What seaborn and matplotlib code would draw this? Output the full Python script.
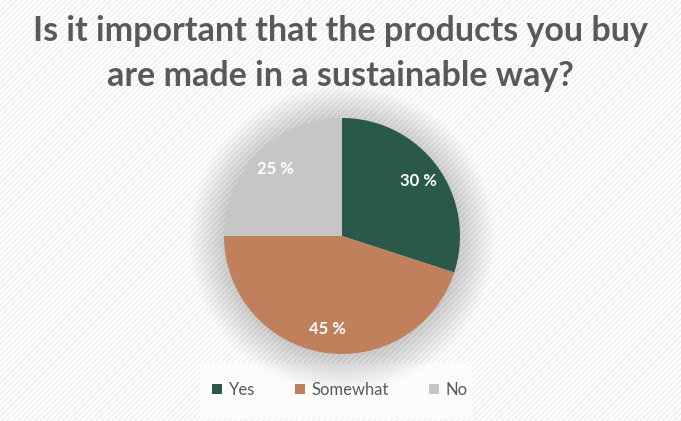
import matplotlib
matplotlib.use("Agg")
import matplotlib.pyplot as plt
import seaborn as sns
import numpy as np
from matplotlib.patches import Rectangle, Circle, Patch

# Data
categories = ["Yes", "Somewhat", "No"]
shares = [30, 45, 25]
colors = ["#2a5849", "#c0805c", "#c6c6c6"]
title_lines = ["Is it important that the products you buy", "are made in a sustainable way?"]

sns.set_theme(style="white")
plt.rcParams["font.family"] = ["Lato", "DejaVu Sans"]

fig = plt.figure(figsize=(6.81, 4.21), dpi=100)

# hatched background
plt.rcParams["hatch.linewidth"] = 1.0
fig.patches.append(Rectangle((0, 0), 1, 1, transform=fig.transFigure, facecolor="white",
                             edgecolor="#eeeeee", hatch="//////", linewidth=0, zorder=-10))

# legend box
fig.patches.append(Rectangle((200 / 681, 3 / 421), 272 / 681, 55 / 421, transform=fig.transFigure,
                             facecolor="#fcfcfc", edgecolor="none", zorder=-5))

for i, line in enumerate(title_lines):
    fig.text(0.5, 1 - (31 + 45 * i) / 421, line, ha="center", va="center", fontsize=24.5,
             fontweight="bold", color="#595959")

ax = fig.add_axes([(342 - 118) / 681, (421 - 354) / 421, 236 / 681, 236 / 421])
ax.set_facecolor("none")

# soft shadow around the pie
for r in np.linspace(1.3, 1.0, 24):
    ax.add_patch(Circle((0, -0.02), r, facecolor="#000000", alpha=0.006, edgecolor="none",
                        clip_on=False, zorder=0))

wedges, texts, autotexts = ax.pie(shares, colors=colors, startangle=90, counterclock=False,
                                  autopct=lambda p: f"{p:.0f} %", pctdistance=0.8,
                                  wedgeprops=dict(linewidth=0),
                                  textprops=dict(color="white", fontsize=12, fontweight="bold"))
ax.set_xlim(-1, 1)
ax.set_ylim(-1, 1)

handles = [Patch(facecolor=c, edgecolor="none") for c in colors]
fig.legend(handles, categories, loc="center", bbox_to_anchor=(340 / 681, (421 - 390) / 421),
           ncol=3, frameon=False, fontsize=12, handlelength=0.6, handleheight=0.6,
           handletextpad=0.4, columnspacing=2.4, labelcolor="#595959")

fig.savefig("out.png", dpi=100)
